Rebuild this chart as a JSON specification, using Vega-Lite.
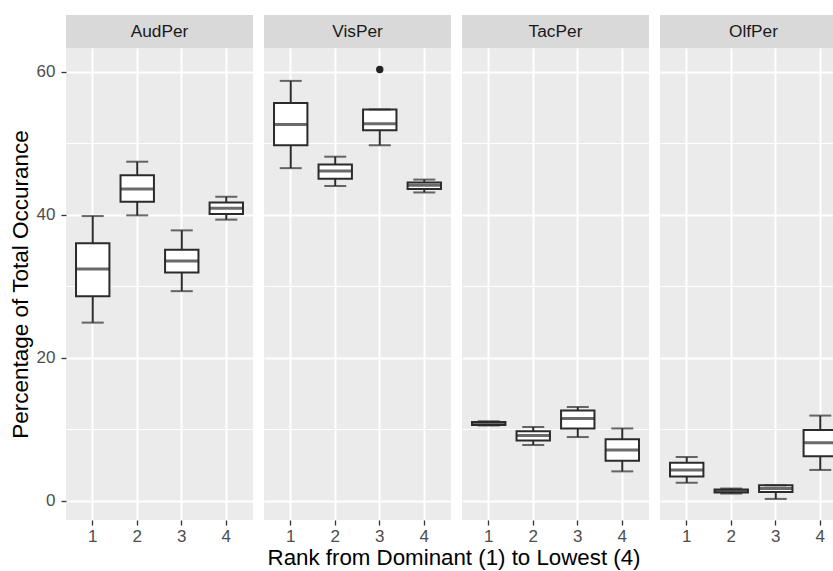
{
  "$schema": "https://vega.github.io/schema/vega-lite/v6.json",
  "background": "white",
  "padding": {"left": 9, "top": 15, "right": 0, "bottom": 0},
  "datasets": {
    "stats": [
      {"var": "AudPer", "rank": 1, "lower": 24.9, "q1": 28.6, "median": 32.4, "q3": 36.0, "upper": 39.8},
      {"var": "AudPer", "rank": 2, "lower": 39.9, "q1": 41.8, "median": 43.6, "q3": 45.5, "upper": 47.4},
      {"var": "AudPer", "rank": 3, "lower": 29.3, "q1": 31.9, "median": 33.5, "q3": 35.1, "upper": 37.8},
      {"var": "AudPer", "rank": 4, "lower": 39.3, "q1": 40.1, "median": 40.9, "q3": 41.7, "upper": 42.5},
      {"var": "VisPer", "rank": 1, "lower": 46.5, "q1": 49.7, "median": 52.6, "q3": 55.6, "upper": 58.7},
      {"var": "VisPer", "rank": 2, "lower": 44.0, "q1": 45.0, "median": 46.1, "q3": 47.0, "upper": 48.1},
      {"var": "VisPer", "rank": 3, "lower": 49.7, "q1": 51.8, "median": 52.7, "q3": 54.7, "upper": 54.7},
      {"var": "VisPer", "rank": 4, "lower": 43.1, "q1": 43.6, "median": 44.1, "q3": 44.5, "upper": 44.9},
      {"var": "TacPer", "rank": 1, "lower": 10.5, "q1": 10.6, "median": 10.8, "q3": 11.0, "upper": 11.1},
      {"var": "TacPer", "rank": 2, "lower": 7.8, "q1": 8.4, "median": 9.1, "q3": 9.7, "upper": 10.3},
      {"var": "TacPer", "rank": 3, "lower": 8.9, "q1": 10.1, "median": 11.5, "q3": 12.6, "upper": 13.1},
      {"var": "TacPer", "rank": 4, "lower": 4.1, "q1": 5.6, "median": 7.1, "q3": 8.6, "upper": 10.1},
      {"var": "OlfPer", "rank": 1, "lower": 2.5, "q1": 3.4, "median": 4.3, "q3": 5.3, "upper": 6.1},
      {"var": "OlfPer", "rank": 2, "lower": 1.0, "q1": 1.15, "median": 1.35, "q3": 1.55, "upper": 1.7},
      {"var": "OlfPer", "rank": 3, "lower": 0.25, "q1": 1.2, "median": 1.7, "q3": 2.15, "upper": 2.15},
      {"var": "OlfPer", "rank": 4, "lower": 4.3, "q1": 6.2, "median": 8.1, "q3": 9.9, "upper": 11.9}
    ],
    "outliers": [
      {"var": "VisPer", "rank": 3, "value": 60.3}
    ]
  },
  "title": {
    "text": "Rank from Dominant (1) to Lowest (4)",
    "orient": "bottom",
    "anchor": "middle",
    "fontSize": 22.3,
    "fontWeight": "normal",
    "color": "black",
    "offset": 3,
    "dx": 26
  },
  "spacing": 11,
  "hconcat": [
    {
      "spacing": 0,
      "bounds": "flush",
      "vconcat": [
        {
          "width": 187, "height": 33,
          "view": {"fill": "#D9D9D9", "stroke": null},
          "data": {"values": [{"var": "AudPer"}]},
          "mark": {"type": "text", "fontSize": 17.3, "color": "#1A1A1A"},
          "encoding": {"text": {"field": "var"}}
        },
        {
          "width": 187, "height": 472,
          "data": {"name": "stats"},
          "transform": [{"filter": "datum.var == 'AudPer'"}],
          "encoding": {
            "x": {"field": "rank", "type": "ordinal", "title": null,
                  "scale": {"paddingInner": 0.25, "paddingOuter": 0.225},
                  "axis": {"labelAngle": 0, "bandPosition": 0.5, "grid": true, "gridWidth": 2}}
          },
          "layer": [
            {"mark": {"type": "rule", "color": "#2B2B2B", "strokeWidth": 2},
             "encoding": {
               "y": {"field": "lower", "type": "quantitative", "title": "Percentage of Total Occurance",
                     "scale": {"domain": [-2.7, 63.3], "nice": false, "zero": false},
                     "axis": {"values": [0, 10, 20, 30, 40, 50, 60],
                              "labelExpr": "datum.value % 20 == 0 ? datum.label : ''",
                              "gridWidth": {"condition": {"test": "datum.value % 20 == 0", "value": 2}, "value": 1},
                              "tickOpacity": {"condition": {"test": "datum.value % 20 == 0", "value": 1}, "value": 0},
                              "labelPadding": 6,
                              "titlePadding": 4,
                              "titleFontSize": 22.5}},
               "y2": {"field": "upper"}}},
            {"mark": {"type": "bar", "fill": "white", "stroke": "#2B2B2B", "strokeWidth": 2},
             "encoding": {
               "y": {"field": "q1", "type": "quantitative", "title": "Percentage of Total Occurance"},
               "y2": {"field": "q3"}}},
            {"mark": {"type": "tick", "color": "#2B2B2B", "size": 34, "thickness": 3},
             "encoding": {"y": {"field": "median", "type": "quantitative", "title": "Percentage of Total Occurance"}}},
            {"mark": {"type": "tick", "color": "#2B2B2B", "size": 22, "thickness": 2},
             "encoding": {"y": {"field": "lower", "type": "quantitative", "title": "Percentage of Total Occurance"}}},
            {"mark": {"type": "tick", "color": "#2B2B2B", "size": 22, "thickness": 2},
             "encoding": {"y": {"field": "upper", "type": "quantitative", "title": "Percentage of Total Occurance"}}}
          ]
        }
      ]
    },
    {
      "spacing": 0,
      "bounds": "flush",
      "vconcat": [
        {
          "width": 187, "height": 33,
          "view": {"fill": "#D9D9D9", "stroke": null},
          "data": {"values": [{"var": "VisPer"}]},
          "mark": {"type": "text", "fontSize": 17.3, "color": "#1A1A1A"},
          "encoding": {"text": {"field": "var"}}
        },
        {
          "width": 187, "height": 472,
          "data": {"name": "stats"},
          "transform": [{"filter": "datum.var == 'VisPer'"}],
          "encoding": {
            "x": {"field": "rank", "type": "ordinal", "title": null,
                  "scale": {"paddingInner": 0.25, "paddingOuter": 0.225},
                  "axis": {"labelAngle": 0, "bandPosition": 0.5, "grid": true, "gridWidth": 2}}
          },
          "layer": [
            {"mark": {"type": "rule", "color": "#2B2B2B", "strokeWidth": 2},
             "encoding": {
               "y": {"field": "lower", "type": "quantitative", "title": null,
                     "scale": {"domain": [-2.7, 63.3], "nice": false, "zero": false},
                     "axis": {"values": [0, 10, 20, 30, 40, 50, 60], "labels": false, "ticks": false,
                              "gridWidth": {"condition": {"test": "datum.value % 20 == 0", "value": 2}, "value": 1}}},
               "y2": {"field": "upper"}}},
            {"mark": {"type": "bar", "fill": "white", "stroke": "#2B2B2B", "strokeWidth": 2},
             "encoding": {
               "y": {"field": "q1", "type": "quantitative", "title": null},
               "y2": {"field": "q3"}}},
            {"mark": {"type": "tick", "color": "#2B2B2B", "size": 34, "thickness": 3},
             "encoding": {"y": {"field": "median", "type": "quantitative", "title": null}}},
            {"mark": {"type": "tick", "color": "#2B2B2B", "size": 22, "thickness": 2},
             "encoding": {"y": {"field": "lower", "type": "quantitative", "title": null}}},
            {"mark": {"type": "tick", "color": "#2B2B2B", "size": 22, "thickness": 2},
             "encoding": {"y": {"field": "upper", "type": "quantitative", "title": null}}},
            {"data": {"name": "outliers"},
             "mark": {"type": "point", "filled": true, "color": "#222222", "size": 55, "opacity": 1},
             "encoding": {"y": {"field": "value", "type": "quantitative", "title": null}}}
          ]
        }
      ]
    },
    {
      "spacing": 0,
      "bounds": "flush",
      "vconcat": [
        {
          "width": 187, "height": 33,
          "view": {"fill": "#D9D9D9", "stroke": null},
          "data": {"values": [{"var": "TacPer"}]},
          "mark": {"type": "text", "fontSize": 17.3, "color": "#1A1A1A"},
          "encoding": {"text": {"field": "var"}}
        },
        {
          "width": 187, "height": 472,
          "data": {"name": "stats"},
          "transform": [{"filter": "datum.var == 'TacPer'"}],
          "encoding": {
            "x": {"field": "rank", "type": "ordinal", "title": null,
                  "scale": {"paddingInner": 0.25, "paddingOuter": 0.225},
                  "axis": {"labelAngle": 0, "bandPosition": 0.5, "grid": true, "gridWidth": 2}}
          },
          "layer": [
            {"mark": {"type": "rule", "color": "#2B2B2B", "strokeWidth": 2},
             "encoding": {
               "y": {"field": "lower", "type": "quantitative", "title": null,
                     "scale": {"domain": [-2.7, 63.3], "nice": false, "zero": false},
                     "axis": {"values": [0, 10, 20, 30, 40, 50, 60], "labels": false, "ticks": false,
                              "gridWidth": {"condition": {"test": "datum.value % 20 == 0", "value": 2}, "value": 1}}},
               "y2": {"field": "upper"}}},
            {"mark": {"type": "bar", "fill": "white", "stroke": "#2B2B2B", "strokeWidth": 2},
             "encoding": {
               "y": {"field": "q1", "type": "quantitative", "title": null},
               "y2": {"field": "q3"}}},
            {"mark": {"type": "tick", "color": "#2B2B2B", "size": 34, "thickness": 3},
             "encoding": {"y": {"field": "median", "type": "quantitative", "title": null}}},
            {"mark": {"type": "tick", "color": "#2B2B2B", "size": 22, "thickness": 2},
             "encoding": {"y": {"field": "lower", "type": "quantitative", "title": null}}},
            {"mark": {"type": "tick", "color": "#2B2B2B", "size": 22, "thickness": 2},
             "encoding": {"y": {"field": "upper", "type": "quantitative", "title": null}}}
          ]
        }
      ]
    },
    {
      "spacing": 0,
      "bounds": "flush",
      "vconcat": [
        {
          "width": 187, "height": 33,
          "view": {"fill": "#D9D9D9", "stroke": null},
          "data": {"values": [{"var": "OlfPer"}]},
          "mark": {"type": "text", "fontSize": 17.3, "color": "#1A1A1A"},
          "encoding": {"text": {"field": "var"}}
        },
        {
          "width": 187, "height": 472,
          "data": {"name": "stats"},
          "transform": [{"filter": "datum.var == 'OlfPer'"}],
          "encoding": {
            "x": {"field": "rank", "type": "ordinal", "title": null,
                  "scale": {"paddingInner": 0.25, "paddingOuter": 0.225},
                  "axis": {"labelAngle": 0, "bandPosition": 0.5, "grid": true, "gridWidth": 2}}
          },
          "layer": [
            {"mark": {"type": "rule", "color": "#2B2B2B", "strokeWidth": 2},
             "encoding": {
               "y": {"field": "lower", "type": "quantitative", "title": null,
                     "scale": {"domain": [-2.7, 63.3], "nice": false, "zero": false},
                     "axis": {"values": [0, 10, 20, 30, 40, 50, 60], "labels": false, "ticks": false,
                              "gridWidth": {"condition": {"test": "datum.value % 20 == 0", "value": 2}, "value": 1}}},
               "y2": {"field": "upper"}}},
            {"mark": {"type": "bar", "fill": "white", "stroke": "#2B2B2B", "strokeWidth": 2},
             "encoding": {
               "y": {"field": "q1", "type": "quantitative", "title": null},
               "y2": {"field": "q3"}}},
            {"mark": {"type": "tick", "color": "#2B2B2B", "size": 34, "thickness": 3},
             "encoding": {"y": {"field": "median", "type": "quantitative", "title": null}}},
            {"mark": {"type": "tick", "color": "#2B2B2B", "size": 22, "thickness": 2},
             "encoding": {"y": {"field": "lower", "type": "quantitative", "title": null}}},
            {"mark": {"type": "tick", "color": "#2B2B2B", "size": 22, "thickness": 2},
             "encoding": {"y": {"field": "upper", "type": "quantitative", "title": null}}}
          ]
        }
      ]
    }
  ],
  "config": {
    "font": "Liberation Sans",
    "view": {"fill": "#EBEBEB", "stroke": null},
    "axis": {
      "domain": false,
      "gridColor": "white",
      "gridOpacity": 1,
      "tickColor": "#333333",
      "tickSize": 5,
      "tickWidth": 1.3,
      "labelColor": "#4D4D4D",
      "labelFontSize": 17,
      "labelFont": "Liberation Sans",
      "labelPadding": 3,
      "titleColor": "black",
      "titleFontSize": 21,
      "titleFontWeight": "normal",
      "titleFont": "Liberation Sans"
    }
  }
}
